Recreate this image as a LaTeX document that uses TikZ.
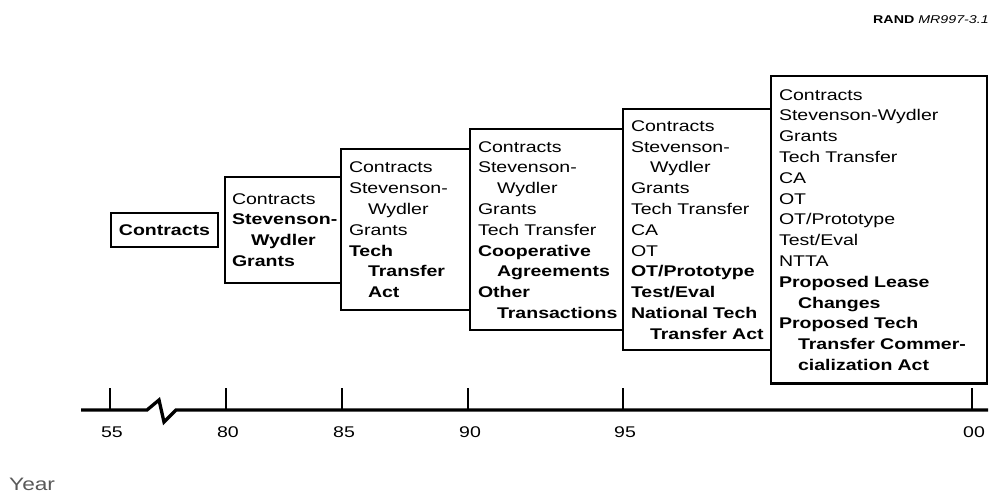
\documentclass[tikz,border=0pt]{standalone}
\usepackage{fontspec}
\setmainfont[FakeStretch=1.26]{Liberation Sans}
\hyphenpenalty=10000
\exhyphenpenalty=10000
\newcommand\indnt[1]{\hspace*{19pt}\mbox{#1}}
\begin{document}
\begin{tikzpicture}[x=1pt,y=-1pt,
    era/.style={draw, line width=2pt, inner xsep=8pt, inner ysep=0pt,
        align=left, font=\fontsize{15.5}{20.8}\selectfont},
    tick/.style={line width=2pt},
    yearlbl/.style={font=\fontsize{15.5}{18}\selectfont, inner sep=0pt}]
\useasboundingbox (0,0) rectangle (991,494);
% label top right
\node[anchor=west, inner sep=0pt, font=\fontsize{11.3}{13}\selectfont] (rand) at (873,20)
    {\textbf{RAND} \textit{MR997-3.1}};

% boxes, one per period
\node[era, align=center, minimum width=105pt, minimum height=34pt] (b55) at (164.5,230)
    {\textbf{Contracts}};
\node[era, text width=102pt, minimum height=106pt, inner xsep=7pt] (b80) at (283,230)
    {Contracts\\ \mbox{\textbf{Stevenson-}}\\ \indnt{\textbf{Wydler}}\\ \textbf{Grants}};
\node[era, text width=113pt, minimum height=161pt] (b85) at (405.5,230)
    {Contracts\\ Stevenson-\\ \indnt{Wydler}\\ Grants\\ \textbf{Tech}\\
     \indnt{\textbf{Transfer}}\\ \indnt{\textbf{Act}}};
\node[era, text width=137pt, minimum height=201pt] (b90) at (546.5,230)
    {Contracts\\ Stevenson-\\ \indnt{Wydler}\\ Grants\\ Tech Transfer\\
     \textbf{Cooperative}\\ \indnt{\textbf{Agreements}}\\ \textbf{Other}\\
     \indnt{\textbf{Transactions}}};
\node[era, text width=132pt, minimum height=241pt] (b95) at (697,230)
    {Contracts\\ Stevenson-\\ \indnt{Wydler}\\ Grants\\ Tech Transfer\\ CA\\ OT\\
     \textbf{OT/Prototype}\\ \textbf{Test/Eval}\\ \mbox{\textbf{National Tech}}\\
     \indnt{\textbf{Transfer Act}}};
\node[era, text width=200pt, minimum height=307pt] (b00) at (879,230)
    {Contracts\\ Stevenson-Wydler\\ Grants\\ Tech Transfer\\ CA\\ OT\\
     OT/Prototype\\ Test/Eval\\ NTTA\\ \textbf{Proposed Lease}\\
     \indnt{\textbf{Changes}}\\ \textbf{Proposed Tech}\\
     \indnt{\textbf{Transfer Commer-}}\\ \indnt{\textbf{cialization Act}}};

% time axis with break
\draw[line width=3.3pt, line join=miter] (81,410) -- (147,410) -- (159,400)
    -- (164,422) -- (176,410) -- (988,410);
\foreach \x/\yr in {110/55, 226/80, 342/85, 468/90, 623/95, 972/00} {
    \draw[tick] (\x,388) -- (\x,410);
    \node[yearlbl] (y\yr) at (\x+2,432) {\yr};
}
\node[anchor=base west, inner sep=0pt, text=black!65,
      font=\fontsize{18}{20}\selectfont] (year) at (9,490) {Year};
\end{tikzpicture}
\end{document}
